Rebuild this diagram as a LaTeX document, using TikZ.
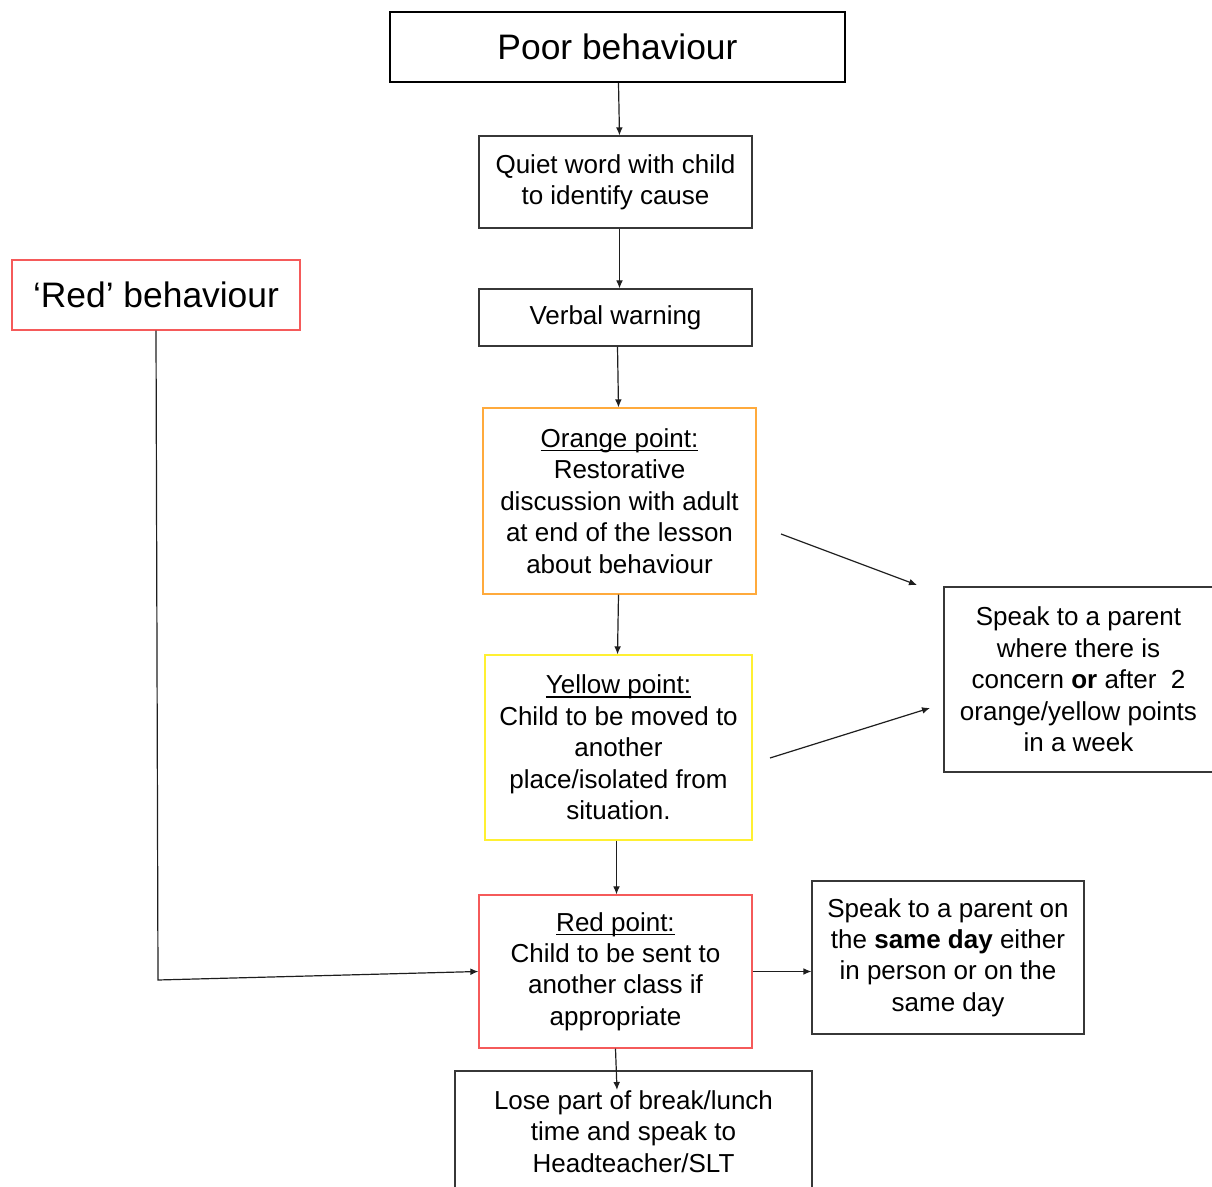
\documentclass[tikz,border=0pt]{standalone}
\usepackage{fontspec}
\setmainfont{Liberation Sans}
\usetikzlibrary{arrows.meta}

\definecolor{linegray}{RGB}{55,55,55}
\definecolor{arrowgray}{RGB}{30,30,30}
\definecolor{boxorange}{RGB}{255,170,60}
\definecolor{boxyellow}{RGB}{255,240,50}
\definecolor{boxred}{RGB}{245,90,90}

\newcommand{\uhead}[1]{\setbox0\hbox{#1}\rlap{\rule[-1.8pt]{\wd0}{0.6pt}}\box0}

\tikzset{
  box/.style={draw=linegray, line width=0.6pt, align=center, inner sep=0pt,
    font=\fontsize{13}{15.7}\selectfont},
  bigbox/.style={box, font=\fontsize{17.7}{21}\selectfont},
  link/.style={draw=arrowgray, line width=0.6pt, -{Latex[length=4pt,width=3.4pt]}}
}

\begin{document}
\begin{tikzpicture}[x=0.5pt, y=-0.5pt]
  \useasboundingbox (0,0) rectangle (1212,1187);

  % main column
  \node[bigbox, draw=black, line width=1.2pt, minimum width=227.5pt, minimum height=35pt] (poor) at (617.5,47) {Poor behaviour};
  \node[box, minimum width=136.5pt, minimum height=46pt] (quiet) at (615.5,182) {Quiet word with child\\to identify cause};
  \node[box, minimum width=136.5pt, minimum height=28.5pt] (verbal) at (615.5,317.5) {Verbal warning};
  \node[box, draw=boxorange, minimum width=136.5pt, minimum height=93pt] (orange) at (619.5,501)
    {\uhead{Orange point:}\\Restorative\\discussion with adult\\at end of the lesson\\about behaviour};
  \node[box, draw=boxyellow, minimum width=133.5pt, minimum height=92.5pt] (yellow) at (618.5,747.5)
    {\uhead{Yellow point:}\\Child to be moved to\\another\\place/isolated from\\situation.};
  \node[box, draw=boxred, minimum width=136.5pt, minimum height=76.5pt] (redpt) at (615.5,971.5)
    {\uhead{Red point:}\\Child to be sent to\\another class if\\appropriate};
  \node[box, minimum width=178.5pt, minimum height=60.5pt] (lose) at (633.5,1131.5)
    {Lose part of break/lunch\\time and speak to\\Headteacher/SLT};

  % side boxes
  \node[bigbox, draw=boxred, minimum width=144pt, minimum height=35pt] (redbeh) at (156,295) {`Red' behaviour};
  \node[box, minimum width=134.5pt, minimum height=92.5pt] (parent) at (1078.5,679.5)
    {Speak to a parent\\where there is\\concern \textbf{or} after\ \ 2\\orange/yellow points\\in a week};
  \node[box, minimum width=136pt, minimum height=76.5pt] (sameday) at (948,957.5)
    {Speak to a parent on\\the \textbf{same day} either\\in person or on the\\same day};

  \coordinate (orangeout) at (781,534);
  \coordinate (parentin1) at (917,585);
  \coordinate (yellowout) at (770,758);
  \coordinate (parentin2) at (930,708);
  \coordinate (redturn) at (158,980);
  \coordinate (losetip) at (617,1090);

  \draw[link] ([xshift=0.5pt]poor.south) -- ([xshift=2pt]quiet.north);
  \draw[link] ([xshift=2pt]quiet.south) -- ([xshift=2pt]verbal.north);
  \draw[link] ([xshift=1pt]verbal.south) -- ([xshift=-0.5pt]orange.north);
  \draw[link] ([xshift=-0.5pt]orange.south) -- ([xshift=-0.5pt]yellow.north);
  \draw[link] ([xshift=-1pt]yellow.south) -- ([xshift=0.5pt]redpt.north);
  \draw[link] (redpt.south) -- (losetip);
  \draw[link] (redpt.east) -- (redpt.east -| sameday.west);
  \draw[link] (orangeout) -- (parentin1);
  \draw[link] (yellowout) -- (parentin2);
  \draw[link] (redbeh.south) -- (redturn) -- (redpt.west);
\end{tikzpicture}
\end{document}
